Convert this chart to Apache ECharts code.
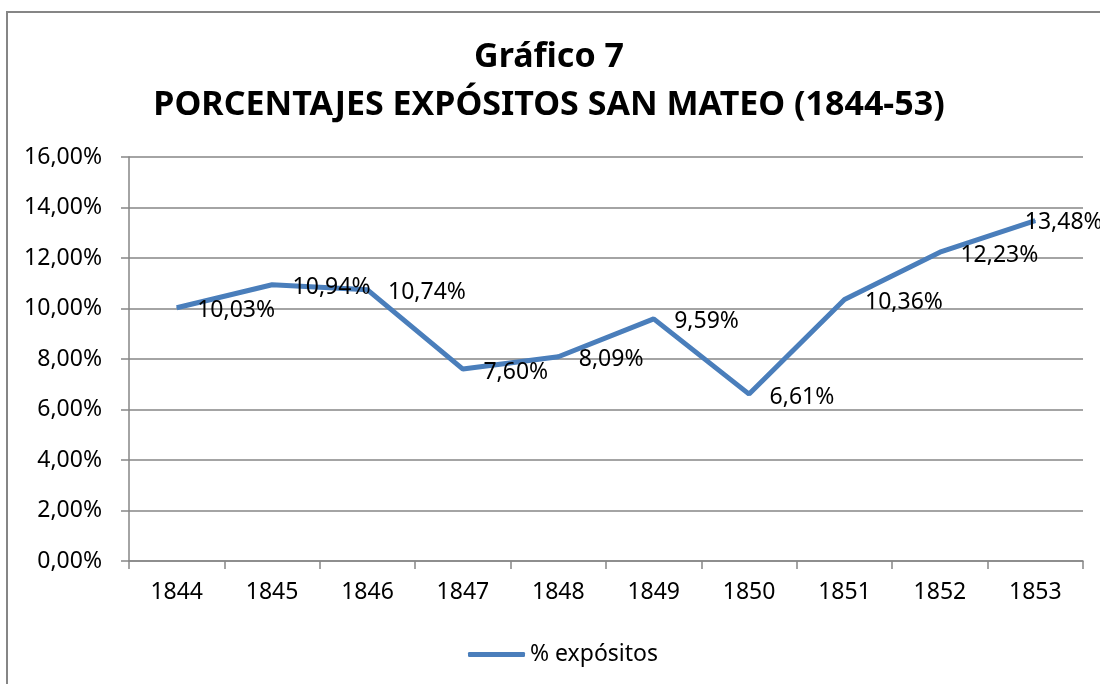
<!DOCTYPE html>
<html>
<head>
<meta charset="utf-8">
<script src="https://cdn.jsdelivr.net/npm/echarts@6/dist/echarts.min.js"></script>
<style>
  html, body { margin: 0; padding: 0; background: #fff; }
  #main { width: 1100px; height: 684px; }
</style>
</head>
<body>
<div id="main"></div>
<script>
// datos
var years = ['1844', '1845', '1846', '1847', '1848', '1849', '1850', '1851', '1852', '1853'];
var expositos = [10.03, 10.94, 10.74, 7.60, 8.09, 9.59, 6.61, 10.36, 12.23, 13.48];
var seriesName = '% expósitos';
var titleLines = ['Gráfico 7', 'PORCENTAJES EXPÓSITOS SAN MATEO (1844-53)'];

var myChart = echarts.init(document.getElementById('main'));
var fontFam = '"Noto Sans", sans-serif';
var gris = '#868686';
var azul = '#4A7EBB';

function pct(v) {
    return v.toFixed(2).replace('.', ',') + '%';
}

// la ultima etiqueta se mete hacia dentro, como en el original
var serieData = expositos.map(function (v, i) {
    if (i === expositos.length - 1) {
        return { value: v, label: { offset: [-31, 2] } };
    }
    return v;
});

var option = {
    backgroundColor: '#fff',
    animation: false,
    graphic: [{
        type: 'rect',
        shape: { x: 7, y: 12, width: 1200, height: 800 },
        style: { fill: 'none', stroke: gris, lineWidth: 2 },
        silent: true
    }],
    title: {
        text: titleLines.join('\n'),
        left: 544,
        textAlign: 'center',
        top: 28,
        textStyle: {
            fontFamily: fontFam,
            fontSize: 34,
            fontWeight: 'bold',
            color: '#000',
            lineHeight: 48
        }
    },
    grid: {
        left: 129,
        right: 17,
        top: 157,
        bottom: 123
    },
    legend: {
        data: [{ name: seriesName, icon: 'roundRect' }],
        left: 463,
        top: 638,
        itemWidth: 57,
        itemHeight: 5,
        itemGap: 10,
        textStyle: { fontFamily: fontFam, fontSize: 23, color: '#000' }
    },
    xAxis: {
        type: 'category',
        data: years,
        boundaryGap: true,
        axisLine: { lineStyle: { color: gris, width: 1.5 } },
        axisTick: { show: true, length: 8, lineStyle: { color: gris, width: 1.5 } },
        axisLabel: { margin: 20, fontFamily: fontFam, fontSize: 23, color: '#000' }
    },
    yAxis: {
        type: 'value',
        min: 0,
        max: 16,
        interval: 2,
        axisLine: { show: true, lineStyle: { color: gris, width: 1.5 } },
        axisTick: { show: true, length: 8, lineStyle: { color: gris, width: 1.5 } },
        splitLine: { lineStyle: { color: gris, width: 1.5 } },
        axisLabel: {
            margin: 27,
            fontFamily: fontFam,
            fontSize: 23,
            color: '#000',
            formatter: function (v) { return pct(v); }
        }
    },
    series: [{
        name: seriesName,
        type: 'line',
        data: serieData,
        symbol: 'circle',
        symbolSize: 1,
        showSymbol: true,
        lineStyle: { color: azul, width: 5 },
        itemStyle: { color: azul },
        label: {
            show: true,
            position: 'right',
            distance: 20,
            offset: [0, 3],
            fontFamily: fontFam,
            fontSize: 23,
            color: '#000',
            formatter: function (p) { return pct(p.value); }
        }
    }]
};
myChart.setOption(option);
</script>
</body>
</html>
